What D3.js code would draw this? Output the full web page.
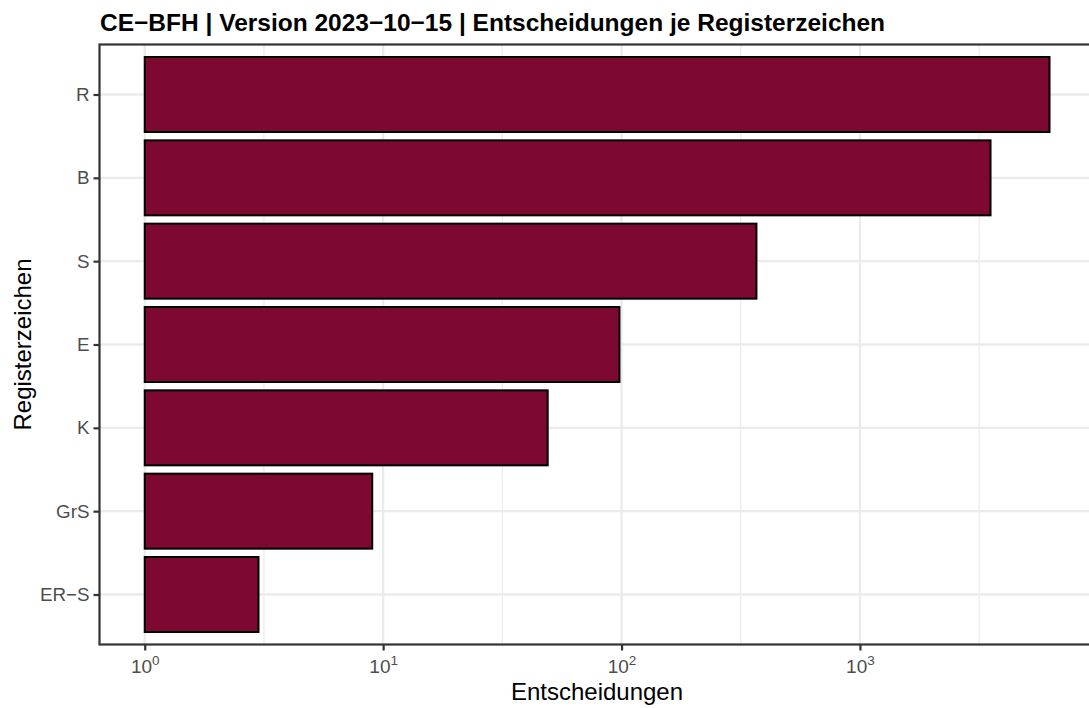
<!DOCTYPE html>
<html>
<head>
<meta charset="utf-8">
<script src="https://cdn.jsdelivr.net/npm/d3@7"></script>
<style>
  html, body { margin: 0; padding: 0; background: #ffffff; }
  svg { display: block; font-family: "Liberation Sans", Arial, Helvetica, sans-serif; }
</style>
</head>
<body>
<svg id="chart" width="1089" height="708"></svg>
<script>
// Decisions per register sign (log scale)
const categories = ["R", "B", "S", "E", "K", "GrS", "ER\u2212S"];
const decisions  = [6240, 3530, 368, 98, 49, 9, 3];
const xTickValues = [1, 10, 100, 1000];
const xTickExponents = ["0", "1", "2", "3"];

const titleText = "CE\u2212BFH | Version 2023\u221210\u221215 | Entscheidungen je Registerzeichen";
const xTitle = "Entscheidungen";
const yTitle = "Registerzeichen";

const W = 1089, H = 708;
const panel = { left: 99.5, top: 44.5, bottom: 644.5 };

// ggplot-like continuous expansion: 5% of log range on both sides, bars start at 10^0
const lo = 0, hi = Math.log10(d3.max(decisions));
const pad = 0.05 * (hi - lo);
const pxPerDecade = 238.4;
panel.right = panel.left + (hi - lo + 2 * pad) * pxPerDecade;

const x = d3.scaleLog()
  .domain([Math.pow(10, lo - pad), Math.pow(10, hi + pad)])
  .range([panel.left, panel.right]);

const y = d3.scalePoint()
  .domain(categories)
  .range([panel.top, panel.bottom])
  .padding(0.6);

const barH = y.step() * 0.9;

const svg = d3.select("#chart");
svg.append("rect").attr("width", W).attr("height", H).attr("fill", "#ffffff");

const gridColor = "#EBEBEB";

// minor gridlines at half decades
const minorVals = [0.5, 1.5, 2.5, 3.5].map(e => Math.pow(10, e));
svg.append("g").selectAll("line").data(minorVals).join("line")
  .attr("x1", d => x(d)).attr("x2", d => x(d))
  .attr("y1", panel.top).attr("y2", panel.bottom)
  .attr("stroke", gridColor).attr("stroke-width", 1.2);

// major gridlines
svg.append("g").selectAll("line").data(xTickValues).join("line")
  .attr("x1", d => x(d)).attr("x2", d => x(d))
  .attr("y1", panel.top).attr("y2", panel.bottom)
  .attr("stroke", gridColor).attr("stroke-width", 2.3);

svg.append("g").selectAll("line").data(categories).join("line")
  .attr("x1", panel.left).attr("x2", panel.right)
  .attr("y1", d => y(d)).attr("y2", d => y(d))
  .attr("stroke", gridColor).attr("stroke-width", 2.3);

// bars
svg.append("g").selectAll("rect").data(categories).join("rect")
  .attr("x", x(1))
  .attr("y", d => y(d) - barH / 2)
  .attr("width", (d, i) => x(decisions[i]) - x(1))
  .attr("height", barH)
  .attr("fill", "#7D0832")
  .attr("stroke", "#000000")
  .attr("stroke-width", 2);

// panel border
svg.append("rect")
  .attr("x", panel.left).attr("y", panel.top)
  .attr("width", panel.right - panel.left).attr("height", panel.bottom - panel.top)
  .attr("fill", "none").attr("stroke", "#333333").attr("stroke-width", 2.2);

// x axis with 10^k labels
const xAxis = svg.append("g")
  .attr("transform", `translate(0,${panel.bottom})`)
  .call(d3.axisBottom(x).tickValues(xTickValues).tickSize(6).tickPadding(4).tickFormat(() => ""));
xAxis.select(".domain").remove();
xAxis.selectAll(".tick line").attr("stroke", "#333333").attr("stroke-width", 2.2);
xAxis.selectAll(".tick text").each(function(d, i) {
  const t = d3.select(this)
    .attr("y", 28.8).attr("dy", null)
    .attr("fill", "#4D4D4D")
    .attr("font-size", 19)
    .attr("text-anchor", "middle");
  t.text(null);
  t.append("tspan").text("10");
  t.append("tspan").attr("dy", -8).attr("font-size", 13.5).text(xTickExponents[i]);
});

// y axis
const yAxis = svg.append("g")
  .attr("transform", `translate(${panel.left},0)`)
  .call(d3.axisLeft(y).tickSize(6).tickPadding(4));
yAxis.select(".domain").remove();
yAxis.selectAll(".tick line").attr("stroke", "#333333").attr("stroke-width", 2.2);
yAxis.selectAll(".tick text")
  .attr("fill", "#4D4D4D")
  .attr("font-size", 18.8)
  .attr("font-family", "Liberation Sans, Arial, sans-serif");

// titles
svg.append("text")
  .attr("x", 100).attr("y", 30.5)
  .attr("font-size", 24.5).attr("font-weight", "bold").attr("fill", "#000000")
  .text(titleText);

svg.append("text")
  .attr("x", 597)
  .attr("y", 700)
  .attr("text-anchor", "middle")
  .attr("font-size", 24).attr("fill", "#000000")
  .text(xTitle);

svg.append("text")
  .attr("transform", `translate(31,${(panel.top + panel.bottom) / 2}) rotate(-90)`)
  .attr("text-anchor", "middle")
  .attr("font-size", 24).attr("fill", "#000000")
  .text(yTitle);
</script>
</body>
</html>
